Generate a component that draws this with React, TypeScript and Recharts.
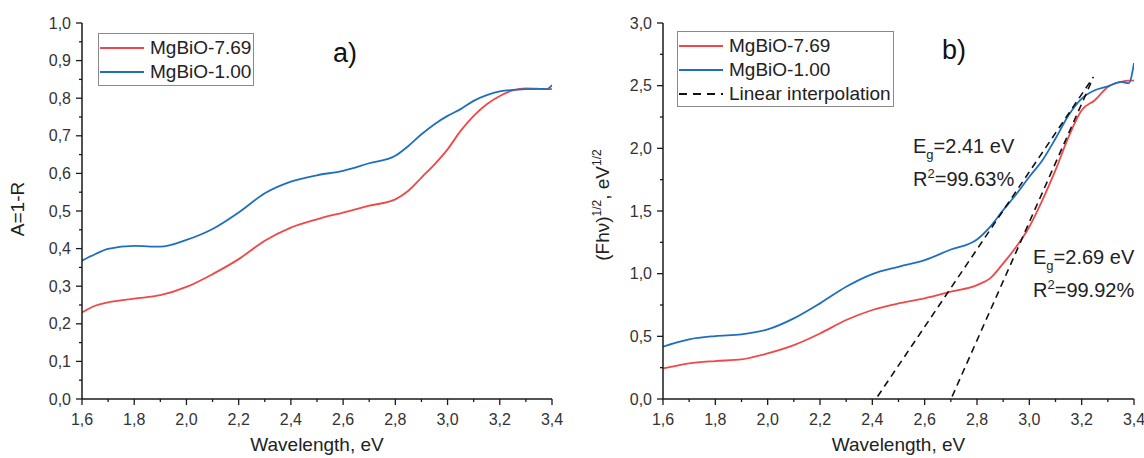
import { LineChart, Line, XAxis, YAxis } from 'recharts';

// photon energy grid, eV (same for both panels)
const energy = [1.6, 1.65, 1.7, 1.8, 1.9, 2.0, 2.1, 2.2, 2.3, 2.4, 2.5, 2.6, 2.7, 2.8, 2.85, 2.9, 2.95, 3.0, 3.05, 3.1, 3.15, 3.2, 3.25, 3.3, 3.35, 3.38, 3.4];

// a) A = 1 - R
const absRed = [0.23, 0.248, 0.257, 0.267, 0.276, 0.298, 0.332, 0.372, 0.421, 0.456, 0.478, 0.496, 0.514, 0.531, 0.554, 0.589, 0.624, 0.664, 0.713, 0.753, 0.784, 0.806, 0.821, 0.826, 0.825, 0.824, 0.824];
const absBlue = [0.368, 0.385, 0.399, 0.407, 0.405, 0.423, 0.452, 0.496, 0.547, 0.578, 0.595, 0.607, 0.627, 0.647, 0.673, 0.704, 0.731, 0.753, 0.771, 0.793, 0.808, 0.818, 0.822, 0.824, 0.825, 0.824, 0.835];

// b) (F h nu)^1/2
const taucRed = [0.244, 0.265, 0.284, 0.303, 0.316, 0.364, 0.43, 0.523, 0.63, 0.71, 0.763, 0.803, 0.856, 0.909, 0.962, 1.082, 1.214, 1.374, 1.587, 1.826, 2.091, 2.304, 2.384, 2.49, 2.53, 2.54, 2.54];
const taucBlue = [0.417, 0.45, 0.476, 0.502, 0.516, 0.555, 0.643, 0.763, 0.896, 0.997, 1.055, 1.108, 1.193, 1.273, 1.374, 1.507, 1.634, 1.773, 1.905, 2.078, 2.264, 2.397, 2.463, 2.495, 2.53, 2.52, 2.68];

// linear fits (end points)
const fitBlueX = [2.42, 3.245];
const fitBlueY = [0.02, 2.57];
const fitRedX = [2.705, 3.235];
const fitRedY = [0.02, 2.52];

const seriesNames = ['MgBiO-7.69', 'MgBiO-1.00'];
const fitName = 'Linear interpolation';

const xMajor = [1.6, 1.8, 2.0, 2.2, 2.4, 2.6, 2.8, 3.0, 3.2, 3.4];
const xMinor = [1.7, 1.9, 2.1, 2.3, 2.5, 2.7, 2.9, 3.1, 3.3];
const yMajorA = [0, 0.1, 0.2, 0.3, 0.4, 0.5, 0.6, 0.7, 0.8, 0.9, 1.0];
const yMinorA = [0.05, 0.15, 0.25, 0.35, 0.45, 0.55, 0.65, 0.75, 0.85, 0.95];
const yMajorB = [0, 0.5, 1.0, 1.5, 2.0, 2.5, 3.0];
const yMinorB = [0.25, 0.75, 1.25, 1.75, 2.25, 2.75];

const RED = '#f04848';
const BLUE = '#1f6fc0';
const AXIS = '#1a1a1a';
const FONT = '"Liberation Sans", Arial, sans-serif';

const pts = (xs: number[], ys: number[]) => xs.map((x, i) => ({ x, y: ys[i] }));
const fmt = (v: number) => v.toFixed(1).replace('.', ',');

const XTick = (props: any) => {
  const { x, y, payload } = props;
  const major = xMajor.includes(payload.value);
  return (
    <g>
      <line x1={x} x2={x} y1={y} y2={y + (major ? 6 : 3)} stroke={AXIS} strokeWidth={1.3} />
      {major && (
        <text x={x} y={y + 20} dy="0.35em" textAnchor="middle" fontSize={16} fill="#333" fontFamily={FONT}>
          {fmt(payload.value)}
        </text>
      )}
    </g>
  );
};

const makeYTick = (majors: number[]) => (props: any) => {
  const { x, y, payload } = props;
  const major = majors.includes(payload.value);
  return (
    <g>
      <line x1={x} x2={x - (major ? 6 : 3)} y1={y} y2={y} stroke={AXIS} strokeWidth={1.3} />
      {major && (
        <text x={x - 11} y={y} dy="0.35em" textAnchor="end" fontSize={16} fill="#333" fontFamily={FONT}>
          {fmt(payload.value)}
        </text>
      )}
    </g>
  );
};

const xLabel = { value: 'Wavelength, eV', position: 'insideBottom' as const, offset: 7, fontSize: 19, fill: '#222', fontFamily: FONT };

const LegendRow = ({ color, dashed, text }: { color: string; dashed?: boolean; text: string }) => (
  <div style={{ display: 'flex', alignItems: 'center', height: 24 }}>
    <svg width={46} height={6} style={{ marginRight: 5 }}>
      <line x1={1} x2={45} y1={3} y2={3} stroke={color} strokeWidth={2} strokeDasharray={dashed ? '8 6' : undefined} />
    </svg>
    <span>{text}</span>
  </div>
);

const legendBox = {
  position: 'absolute' as const,
  border: '1px solid #8a8a8a',
  background: '#fff',
  fontSize: 19,
  color: '#222',
  paddingRight: 2,
  boxSizing: 'border-box' as const,
};

const Eg = ({ left, top, eg, r2 }: { left: number; top: number; eg: string; r2: string }) => (
  <div style={{ position: 'absolute', left, top, fontSize: 20, color: '#222', lineHeight: '31px', whiteSpace: 'nowrap' }}>
    <div>E<span style={{ fontSize: 13, position: 'relative', top: 6 }}>g</span>={eg} eV</div>
    <div>R<span style={{ fontSize: 13, position: 'relative', top: -8 }}>2</span>={r2}%</div>
  </div>
);

export default function App() {
  return (
    <div style={{ position: 'absolute', left: 0, top: 0, width: 1144, height: 458, background: '#fff', fontFamily: FONT }}>
      <div style={{ position: 'absolute', left: 0, top: 0 }}>
        <LineChart width={572} height={458} margin={{ top: 23, right: 20, bottom: 0, left: 0 }}>
          <XAxis type="number" dataKey="x" domain={[1.6, 3.4]} ticks={[...xMajor, ...xMinor]} interval={0}
            tickSize={0} tickMargin={0} tick={XTick} height={59} allowDataOverflow
            axisLine={{ stroke: AXIS, strokeWidth: 1.5 }} label={xLabel} />
          <YAxis type="number" domain={[0, 1]} ticks={[...yMajorA, ...yMinorA]} interval={0}
            tickSize={0} tickMargin={0} tick={makeYTick(yMajorA)} width={82} allowDataOverflow
            axisLine={{ stroke: AXIS, strokeWidth: 1.5 }}
            label={{
              content: () => (
                <text x={17} y={209} transform="rotate(-90 17 209)" textAnchor="middle" dy="0.35em" fontSize={19} fill="#222" fontFamily={FONT}>
                  A=1-R
                </text>
              ),
            }} />
          <Line data={pts(energy, absRed)} dataKey="y" type="monotone" stroke={RED} strokeWidth={1.8} dot={false} isAnimationActive={false} />
          <Line data={pts(energy, absBlue)} dataKey="y" type="monotone" stroke={BLUE} strokeWidth={1.8} dot={false} isAnimationActive={false} />
        </LineChart>
      </div>

      <div style={{ position: 'absolute', left: 572, top: 0 }}>
        <LineChart width={572} height={458} margin={{ top: 23, right: 10, bottom: 0, left: 0 }}>
          <XAxis type="number" dataKey="x" domain={[1.6, 3.4]} ticks={[...xMajor, ...xMinor]} interval={0}
            tickSize={0} tickMargin={0} tick={XTick} height={59} allowDataOverflow
            axisLine={{ stroke: AXIS, strokeWidth: 1.5 }} label={xLabel} />
          <YAxis type="number" domain={[0, 3]} ticks={[...yMajorB, ...yMinorB]} interval={0}
            tickSize={0} tickMargin={0} tick={makeYTick(yMajorB)} width={91} allowDataOverflow
            axisLine={{ stroke: AXIS, strokeWidth: 1.5 }}
            label={{
              content: () => (
                <text x={30} y={205} transform="rotate(-90 30 205)" textAnchor="middle" dy="0.35em" fontSize={19} fill="#222" fontFamily={FONT}>
                  (Fhν)<tspan fontSize={12} dy={-8}>1/2</tspan><tspan dy={8}>, eV</tspan><tspan fontSize={12} dy={-8}>1/2</tspan>
                </text>
              ),
            }} />
          <Line data={pts(energy, taucRed)} dataKey="y" type="monotone" stroke={RED} strokeWidth={1.8} dot={false} isAnimationActive={false} />
          <Line data={pts(energy, taucBlue)} dataKey="y" type="monotone" stroke={BLUE} strokeWidth={1.8} dot={false} isAnimationActive={false} />
          <Line data={pts(fitBlueX, fitBlueY)} dataKey="y" type="linear" stroke="#111" strokeWidth={1.6} strokeDasharray="7 5" dot={false} isAnimationActive={false} />
          <Line data={pts(fitRedX, fitRedY)} dataKey="y" type="linear" stroke="#111" strokeWidth={1.6} strokeDasharray="7 5" dot={false} isAnimationActive={false} />
        </LineChart>
      </div>

      <div style={{ ...legendBox, left: 98, top: 33, height: 53, paddingTop: 2 }}>
        <LegendRow color={RED} text={seriesNames[0]} />
        <LegendRow color={BLUE} text={seriesNames[1]} />
      </div>
      <div style={{ ...legendBox, left: 677, top: 31, height: 76, paddingTop: 2 }}>
        <LegendRow color={RED} text={seriesNames[0]} />
        <LegendRow color={BLUE} text={seriesNames[1]} />
        <LegendRow color="#111" dashed text={fitName} />
      </div>

      <div style={{ position: 'absolute', left: 333, top: 38, fontSize: 27, color: '#111' }}>a)</div>
      <div style={{ position: 'absolute', left: 942, top: 35, fontSize: 27, color: '#111' }}>b)</div>

      <Eg left={913} top={131} eg="2.41" r2="99.63" />
      <Eg left={1033} top={242} eg="2.69" r2="99.92" />
    </div>
  );
}
